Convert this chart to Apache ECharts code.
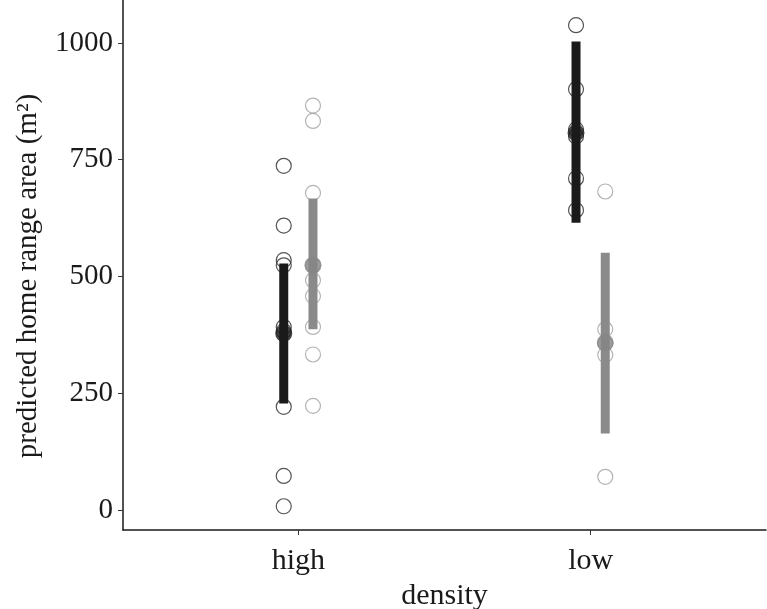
<!DOCTYPE html>
<html>
<head>
<meta charset="utf-8">
<script src="https://cdn.jsdelivr.net/npm/echarts@6/dist/echarts.min.js"></script>
<style>
  html, body { margin: 0; padding: 0; background: #fff; }
  #chart { width: 767px; height: 609px; }
</style>
</head>
<body>
<div id="chart"></div>
<script>
const densityLabels = ["high", "low"];
const yTicks = [0, 250, 500, 750, 1000];

// individual predictions (hollow circles)
const blackHigh = [737, 609, 535, 524, 392, 383, 221, 73, 8];
const blackLow = [1038, 901, 815, 800, 710, 642];
const grayHigh = [866, 833, 679, 524, 492, 458, 392, 333, 223];
const grayLow = [682, 387, 357, 332, 71];

// means and intervals
const blackMean = [378, 808];
const blackLower = [228, 615];
const blackUpper = [528, 1003];
const grayMean = [524, 358];
const grayLower = [387, 164];
const grayUpper = [667, 551];

const dodge = 0.05;

const pts = (vals, cat, off) => vals.map((v) => [cat + off, v]);
const bars = (lo, hi, off) => lo.map((l, i) => [i + 1 + off, l, hi[i]]);
const means = (m, off) => m.map((v, i) => [i + 1 + off, v]);

const chart = echarts.init(document.getElementById("chart"));

const barItem = (color) => (params, api) => {
  const x = api.value(0);
  const p1 = api.coord([x, api.value(1)]);
  const p2 = api.coord([x, api.value(2)]);
  return {
    type: "line",
    shape: { x1: p1[0], y1: p1[1], x2: p2[0], y2: p2[1] },
    style: { stroke: color, lineWidth: 9, lineCap: "butt" },
  };
};

const font = "Liberation Serif";

const option = {
  animation: false,
  grid: { left: 123, right: 1, top: 0, bottom: 79, outerBoundsMode: "none", containLabel: false },
  xAxis: {
    type: "value",
    min: 0.4,
    max: 2.6,
    name: "density",
    nameLocation: "middle",
    nameGap: 46,
    nameTextStyle: { fontFamily: font, fontSize: 30, color: "#1a1a1a" },
    axisLine: { onZero: false, lineStyle: { color: "#1a1a1a", width: 1.5 } },
    axisTick: { customValues: [1, 2], length: 5, lineStyle: { color: "#333" } },
    axisLabel: {
      customValues: [1, 2],
      formatter: (v) => densityLabels[Math.round(v) - 1],
      fontFamily: font,
      fontSize: 30,
      color: "#1a1a1a",
      margin: 16,
    },
    splitLine: { show: false },
  },
  yAxis: {
    type: "value",
    min: -42.8,
    max: 1092,
    name: "predicted home range area (m²)",
    nameLocation: "middle",
    nameGap: 80,
    nameTextStyle: { fontFamily: font, fontSize: 29, color: "#1a1a1a", padding: [0, 22, 0, 0] },
    axisLine: { show: true, onZero: false, lineStyle: { color: "#1a1a1a", width: 1.5 } },
    axisTick: { show: true, customValues: yTicks, length: 5, lineStyle: { color: "#333" } },
    axisLabel: {
      customValues: yTicks,
      formatter: (v) => String(v),
      fontFamily: font,
      fontSize: 29,
      color: "#1a1a1a",
      margin: 10,
    },
    splitLine: { show: false },
  },
  series: [
    {
      type: "scatter",
      symbol: "circle",
      symbolSize: 15,
      itemStyle: { color: "rgba(0,0,0,0)", borderColor: "#2b2b2b", borderWidth: 1.2 },
      data: pts(blackHigh, 1, -dodge).concat(pts(blackLow, 2, -dodge)),
      z: 2,
    },
    {
      type: "scatter",
      symbol: "circle",
      symbolSize: 15,
      itemStyle: { color: "rgba(0,0,0,0)", borderColor: "#a0a0a0", borderWidth: 1.2 },
      data: pts(grayHigh, 1, dodge).concat(pts(grayLow, 2, dodge)),
      z: 2,
    },
    {
      type: "custom",
      renderItem: barItem("#1a1a1a"),
      data: bars(blackLower, blackUpper, -dodge),
      z: 3,
    },
    {
      type: "custom",
      renderItem: barItem("#8a8a8a"),
      data: bars(grayLower, grayUpper, dodge),
      z: 3,
    },
    {
      type: "scatter",
      symbolSize: 17,
      itemStyle: { color: "#1a1a1a" },
      data: means(blackMean, -dodge),
      z: 4,
    },
    {
      type: "scatter",
      symbolSize: 17,
      itemStyle: { color: "#858585" },
      data: means(grayMean, dodge),
      z: 4,
    },
  ],
};

chart.setOption(option);
</script>
</body>
</html>
